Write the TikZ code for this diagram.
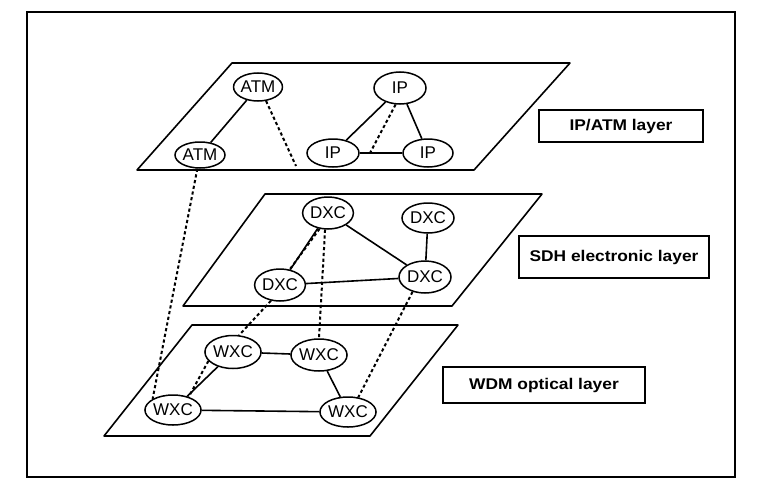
\documentclass[tikz,border=0pt]{standalone}
\usepackage{fontspec}
\usepackage{graphicx}
\setmainfont{Liberation Sans}
\usetikzlibrary{shapes.geometric}
\begin{document}
\begin{tikzpicture}[x=1pt,y=-1pt,
 plane/.style={draw, line width=1.6pt, line join=round},
 dev/.style={draw, ellipse, fill=white, line width=1.5pt, inner sep=0pt,
   minimum width=50pt, minimum height=30pt, font=\fontsize{17}{17}\selectfont},
 link/.style={line width=1.6pt},
 vlink/.style={line width=2pt, dash pattern=on 3.2pt off 2.6pt},
 lbl/.style={draw, line width=1.6pt, inner sep=0pt,
   font=\fontsize{15.5}{15.5}\selectfont\bfseries}]
\useasboundingbox (0,0) rectangle (759,495);
\fill[white] (0,0) rectangle (759,495);
\draw[line width=1.6pt] (27,12) rectangle (735,477);

% planes
\draw[plane] (232,63) -- (570,63) -- (474,170) -- (137,170) -- cycle;
\draw[plane] (265,194) -- (542,194) -- (452,306) -- (183,306) -- cycle;
\draw[plane] (192,325) -- (458,325) -- (370,436) -- (104,436) -- cycle;

% layer labels
\node[lbl, minimum width=164pt, minimum height=32pt] (l1) at (621,126) {\scalebox{1.12}[1]{IP/ATM layer}};
\node[lbl, minimum width=190pt, minimum height=42pt] (l2) at (614,257) {\scalebox{1.12}[1]{SDH electronic layer}};
\node[lbl, minimum width=202pt, minimum height=36pt] (l3) at (544,385) {\scalebox{1.12}[1]{WDM optical layer}};

% IP/ATM layer
\node[dev, minimum width=48pt, minimum height=28pt] (atm1) at (258,87) {ATM};
\node[dev, minimum width=50pt, minimum height=26pt] (atm2) at (200,155) {ATM};
\node[dev, minimum width=52pt, minimum height=32pt] (ip1) at (400,88) {IP};
\node[dev, minimum width=52pt, minimum height=28pt] (ip2) at (333,153) {IP};
\node[dev, minimum width=50pt, minimum height=28pt] (ip3) at (428,153) {IP};

% SDH layer
\node[dev, minimum width=50pt, minimum height=32pt] (dxc1) at (328,213) {DXC};
\node[dev, minimum width=52pt, minimum height=30pt] (dxc2) at (428,218) {DXC};
\node[dev, minimum width=50pt, minimum height=32pt] (dxc3) at (280,285) {DXC};
\node[dev, minimum width=52pt, minimum height=32pt] (dxc4) at (425,277) {DXC};

% WDM layer
\node[dev, minimum width=50pt, minimum height=33pt] (wxc1) at (233,352) {WXC};
\node[dev, minimum width=48pt, minimum height=32pt] (wxc2) at (319,355) {WXC};
\node[dev, minimum width=52pt, minimum height=30pt] (wxc3) at (173,410) {WXC};
\node[dev, minimum width=52pt, minimum height=30pt] (wxc4) at (348,412) {WXC};

% free ends
\coordinate (aend) at (296,166);
\coordinate (ipend) at (370,153);

% solid links
\draw[link] (atm1) -- (atm2);
\draw[link] (ip1) -- (ip2);
\draw[link] (ip1) -- (ip3);
\draw[link] (ip2) -- (ip3);
\draw[link] (dxc1) -- (dxc3);
\draw[link] (dxc1) -- (dxc4);
\draw[link] (dxc2) -- (dxc4);
\draw[link] (dxc3) -- (dxc4);
\draw[link] (wxc1) -- (wxc2);
\draw[link] (wxc2) -- (wxc4);
\draw[link] (wxc4) -- (wxc3);
\draw[link] (wxc3) -- (wxc1);

% dashed links
\draw[vlink] (atm1.-60) -- (aend);
\draw[vlink] (ip1.-105) -- (ipend);
\draw[vlink] (atm2) -- (wxc3.north west);
\draw[vlink] (dxc1.-118) -- (dxc3.58);
\draw[vlink] (dxc3.-120) -- (wxc1.70);
\draw[vlink] (dxc1.-100) -- (wxc2.north);
\draw[vlink] (dxc4.-130) -- (wxc4.55);
\draw[vlink] (wxc1.-160) -- (wxc3.40);
\end{tikzpicture}
\end{document}
